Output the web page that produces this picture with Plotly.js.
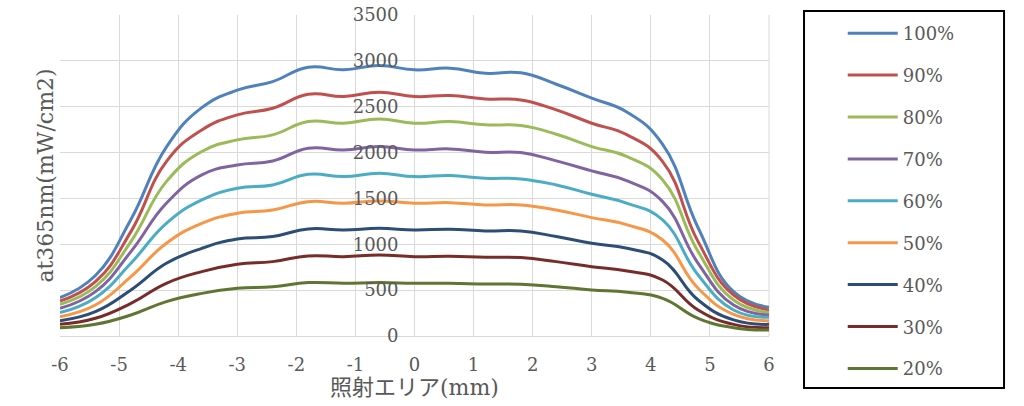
<!DOCTYPE html>
<html>
<head>
<meta charset="utf-8">
<script src="https://cdn.plot.ly/plotly-3.0.1.min.js"></script>
<style>html,body{margin:0;padding:0;background:#fff;}#chart{width:1024px;height:406px;}</style>
</head>
<body>
<div id="chart"></div>
<script>
// positions along irradiation area (mm)
const positions = [-6, -5.4, -4.8, -4.2, -3.6, -3.0, -2.4, -1.8, -1.2, -0.6, 0, 0.6, 1.2, 1.8, 2.4, 3.0, 3.6, 4.2, 4.8, 5.4, 6];

const seriesNames = ['100%', '90%', '80%', '70%', '60%', '50%', '40%', '30%', '20%'];

const s100 = [418, 660, 1270, 2060, 2490, 2680, 2774, 2931, 2902, 2949, 2902, 2920, 2865, 2870, 2745, 2593, 2440, 2090, 1180, 484, 313];
const s90  = [382, 593, 1138, 1902, 2247, 2411, 2483, 2636, 2611, 2658, 2611, 2622, 2585, 2574, 2465, 2320, 2193, 1902, 1029, 447, 284];
const s80  = [345, 538, 1029, 1683, 2011, 2138, 2193, 2338, 2320, 2367, 2320, 2338, 2302, 2294, 2200, 2065, 1956, 1702, 920, 393, 258];
const s70  = [302, 484, 920, 1447, 1756, 1865, 1909, 2047, 2029, 2065, 2029, 2040, 2003, 2000, 1909, 1800, 1691, 1465, 793, 338, 229];
const s60  = [255, 418, 793, 1229, 1484, 1611, 1647, 1763, 1738, 1774, 1738, 1749, 1720, 1713, 1647, 1545, 1447, 1265, 665, 284, 204];
const s50  = [211, 338, 647, 1011, 1229, 1338, 1374, 1465, 1447, 1473, 1447, 1454, 1429, 1429, 1374, 1291, 1211, 1047, 520, 236, 167];
const s40  = [167, 265, 502, 793, 956, 1058, 1084, 1167, 1156, 1174, 1156, 1164, 1145, 1145, 1084, 1011, 956, 829, 393, 175, 127];
const s30  = [127, 193, 356, 575, 702, 782, 811, 873, 865, 884, 865, 869, 858, 855, 811, 756, 709, 611, 284, 127, 91];
const s20  = [91, 127, 229, 375, 465, 520, 538, 582, 575, 582, 575, 575, 567, 564, 538, 502, 476, 411, 193, 91, 65];

const seriesValues = [s100, s90, s80, s70, s60, s50, s40, s30, s20];
const seriesColors = ['#4F81BD', '#C0504D', '#9BBB59', '#8064A2', '#4BACC6', '#F79646', '#2C4D75', '#772C2A', '#5F7530'];

const xTickVals = [-6, -5, -4, -3, -2, -1, 0, 1, 2, 3, 4, 5, 6];
const xTickText = ['-6', '-5', '-4', '-3', '-2', '-1', '0', '1', '2', '3', '4', '5', '6'];
const yTickVals = [0, 500, 1000, 1500, 2000, 2500, 3000, 3500];

const xTitle = '照射エリア(mm)';
const yTitle = 'at365nm(mW/cm2)';

const FONT = '"DejaVu Serif", "Noto Sans CJK JP", serif';
const TXT = '#595959';

const traces = seriesNames.map((name, i) => ({
  type: 'scatter',
  mode: 'lines',
  name: name,
  x: positions,
  y: seriesValues[i],
  legendgroup: 'g' + i,
  line: {color: seriesColors[i], width: 3, shape: 'spline', smoothing: 1.3}
}));

const layout = {
  width: 1024,
  height: 406,
  margin: {l: 60, r: 255, t: 15, b: 70},
  paper_bgcolor: '#ffffff',
  plot_bgcolor: '#ffffff',
  font: {family: FONT, size: 18, color: TXT},
  showlegend: true,
  legend: {
    x: 1.104, y: 1.0, xanchor: 'left', yanchor: 'top',
    bgcolor: 'rgba(0,0,0,0)', borderwidth: 0,
    font: {family: FONT, size: 18, color: TXT},
    tracegroupgap: 15.5,
    itemwidth: 50,
    maxheight: 400
  },
  xaxis: {
    range: [-6, 6],
    tickvals: xTickVals,
    ticktext: xTickText,
    showgrid: true,
    gridcolor: '#d9d9d9',
    gridwidth: 1,
    zeroline: false,
    showline: true,
    linecolor: '#d9d9d9',
    linewidth: 1,
    mirror: false,
    ticks: '',
    ticklabelstandoff: 12,
    tickfont: {family: FONT, size: 18, color: TXT},
    fixedrange: true
  },
  yaxis: {
    range: [0, 3500],
    tickvals: yTickVals,
    anchor: 'free',
    position: 0.5,
    showgrid: true,
    gridcolor: '#d9d9d9',
    gridwidth: 1,
    zeroline: false,
    showline: false,
    ticks: '',
    ticklabelstandoff: 16,
    tickfont: {family: FONT, size: 18, color: TXT},
    fixedrange: true
  },
  shapes: [
    {type: 'rect', xref: 'paper', yref: 'paper', x0: 1.0494, x1: 1.3315, y0: -0.162, y1: 1.0125,
     line: {color: '#000000', width: 2}, fillcolor: 'rgba(0,0,0,0)', layer: 'below'},
    {type: 'line', xref: 'paper', yref: 'paper', x0: 1, x1: 1, y0: 0, y1: 1,
     line: {color: '#d9d9d9', width: 1}, layer: 'below'}
  ],
  annotations: [
    {text: yTitle, xref: 'paper', yref: 'paper', x: -0.021, y: 0.5, xanchor: 'center', yanchor: 'middle',
     textangle: -90, showarrow: false, font: {family: FONT, size: 22, color: TXT}},
    {text: xTitle, xref: 'paper', yref: 'paper', x: 0.5, y: -0.159, xanchor: 'center', yanchor: 'middle',
     showarrow: false, font: {family: FONT, size: 22, color: TXT}}
  ]
};

Plotly.newPlot('chart', traces, layout, {displayModeBar: false, staticPlot: true});
</script>
</body>
</html>
